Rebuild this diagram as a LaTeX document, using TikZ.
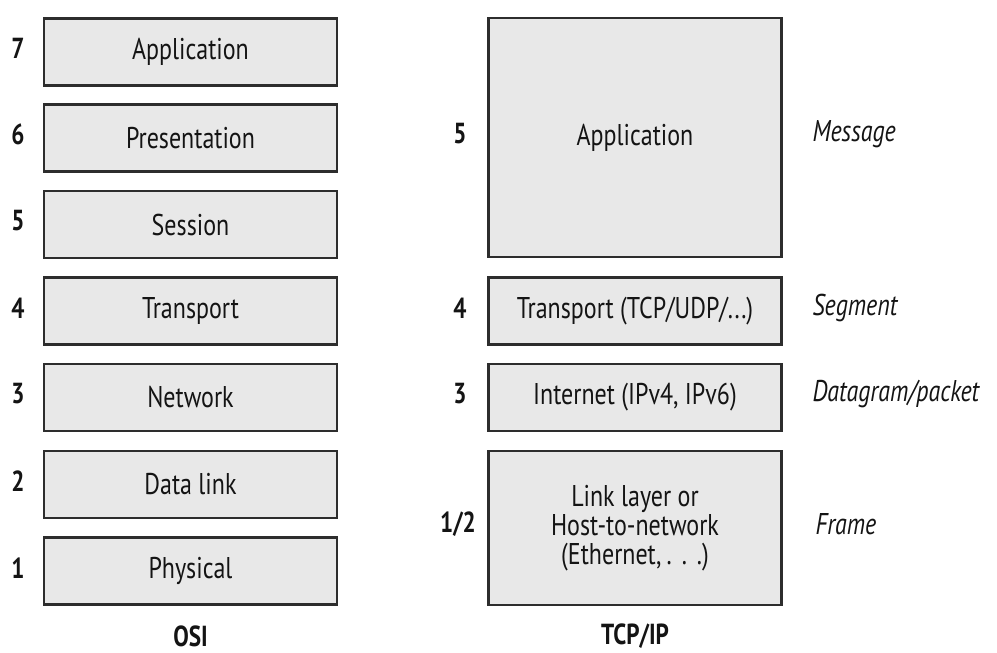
\documentclass[tikz,border=0pt]{standalone}
\usepackage{fontspec}
\setmainfont{PT Sans}[FakeStretch=0.8]
\usepackage{xcolor}
\usepackage{tikz}
\usetikzlibrary{positioning}
\definecolor{layerfill}{RGB}{232, 232, 232}
\definecolor{layerdraw}{RGB}{45, 45, 45}
\definecolor{textgray}{RGB}{20, 20, 20}

\begin{document}
\begin{tikzpicture}[
    x=1pt, y=-1pt,
    layer/.style={rectangle, draw=layerdraw, fill=layerfill, line width=2.8pt,
                  minimum width=293pt, align=center, inner sep=0pt,
                  font=\fontsize{30}{30}\selectfont, text=textgray},
    num/.style={font=\fontsize{29}{30}\selectfont\bfseries, text=textgray},
    unit/.style={anchor=west, font=\fontsize{30}{30}\selectfont\itshape, text=textgray},
    stack/.style={font=\fontsize{29}{30}\selectfont\bfseries, text=textgray}
]
\useasboundingbox (0,0) rectangle (997,653);

%% ── OSI stack ───────────────────────────────────────────────────────────────
\node[layer, minimum height=67pt] (osi7) at (190.5, 52)  {Application};
\node[layer, minimum height=67pt] (osi6) at (190.5, 138) {Presentation};
\node[layer, minimum height=67pt] (osi5) at (190.5, 224.5) {Session};
\node[layer, minimum height=67pt] (osi4) at (190.5, 311) {Transport};
\node[layer, minimum height=67pt] (osi3) at (190.5, 397.5) {Network};
\node[layer, minimum height=67pt] (osi2) at (190.5, 484.5) {Data link};
\node[layer, minimum height=67pt] (osi1) at (190.5, 571) {Physical};

\node[num] (n7) at (18, 48)    {7};
\node[num] (n6) at (18, 134)   {6};
\node[num] (n5) at (18, 221)   {5};
\node[num] (n4) at (18, 308)   {4};
\node[num] (n3) at (18, 394)   {3};
\node[num] (n2) at (18, 481)   {2};
\node[num] (n1) at (18, 568)   {1};

\node[stack] (osi) at (190.5, 636) {OSI};

%% ── TCP/IP stack ────────────────────────────────────────────────────────────
\node[layer, minimum height=239pt] (app)  at (635, 137.5) {Application};
\node[layer, minimum height=67pt]  (trans) at (635, 311)   {Transport (TCP/UDP/...)};
\node[layer, minimum height=67pt]  (inet)  at (635, 397.5) {Internet (IPv4, IPv6)};
\node[layer, minimum height=154pt, font=\fontsize{30}{29}\selectfont] (link) at (635, 528)
    {Link layer or\\Host-to-network\\(Ethernet,\,.\,\,.\,\,.)};

\node[num] (t5)  at (460, 134) {5};
\node[num] (t4)  at (460, 308) {4};
\node[num] (t3)  at (460, 394) {3};
\node[num] (t12) at (458, 524) {1/2};

\node[stack] (tcpip) at (635, 636) {TCP/IP};

%% ── Data units ──────────────────────────────────────────────────────────────
\node[unit] (msg)  at (809, 134) {Message};
\node[unit] (seg)  at (809, 308) {Segment};
\node[unit] (dgram) at (809, 394) {Datagram/packet};
\node[unit] (frame) at (812, 524) {Frame};

\end{tikzpicture}
\end{document}
